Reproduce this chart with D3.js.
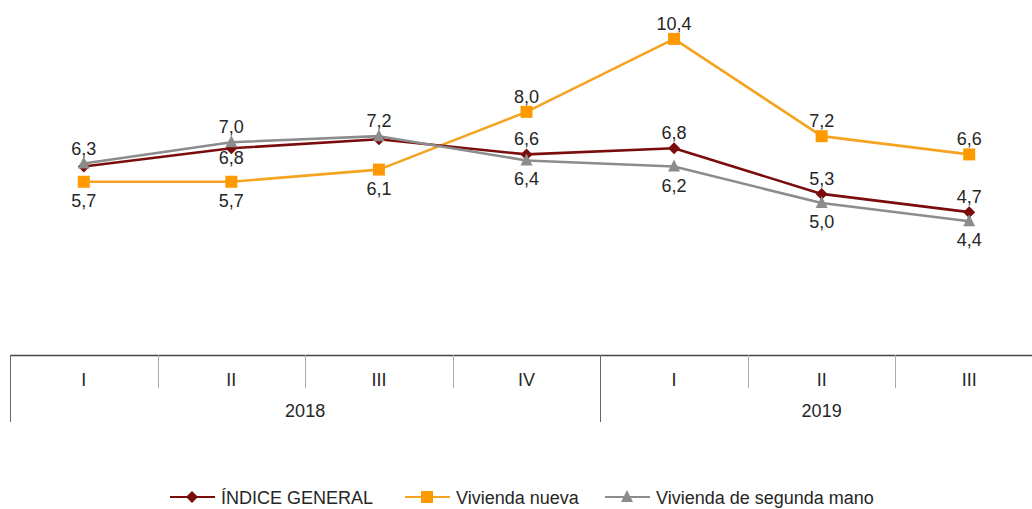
<!DOCTYPE html>
<html><head><meta charset="utf-8">
<script src="https://cdn.jsdelivr.net/npm/d3@7"></script>
<style>body{margin:0;background:#fff}svg{display:block}text{font-family:"Liberation Sans",Arial,sans-serif}</style>
</head><body><svg id="c" width="1032" height="509"></svg>
<script>
const quarters = ["I","II","III","IV","I","II","III"];
const years = ["2018","2018","2018","2018","2019","2019","2019"];
const indiceGeneral = [6.2, 6.8, 7.1, 6.6, 6.8, 5.3, 4.7];
const viviendaNueva = [5.7, 5.7, 6.1, 8.0, 10.4, 7.2, 6.6];
const segundaMano = [6.3, 7.0, 7.2, 6.4, 6.2, 5.0, 4.4];
const seriesNames = ["ÍNDICE GENERAL", "Vivienda nueva", "Vivienda de segunda mano"];
// label placement: 1 above, -1 below, -0.6 close below, 0 hidden
const labelIndice = [0, -0.6, 0, 1, 1, 1, 1];
const labelNueva = [-1, -1, -1, 1, 1, 1, 1];
const labelSegunda = [1, 1, 1, -1, -1, -1, -1];

const svg = d3.select("#c");
const left = 10, axisY = 355;
const x = d3.scaleBand().domain(d3.range(quarters.length)).range([left, 1043]).paddingInner(0);
const y = d3.scaleLinear().domain([0, 11.68]).range([axisY, 0]);
const cx = i => x(i) + x.bandwidth() / 2;

const series = [
  {name: seriesNames[0], values: indiceGeneral, color: "#7b0c0c", fill: "#7b0c0c", marker: "diamond", labels: labelIndice},
  {name: seriesNames[1], values: viviendaNueva, color: "#f5a421", fill: "#ff9900", marker: "square", labels: labelNueva},
  {name: seriesNames[2], values: segundaMano, color: "#8c8c8c", fill: "#8c8c8c", marker: "triangle", labels: labelSegunda}
];

function marker(g, s, px, py) {
  if (s.marker === "square") {
    g.append("rect").attr("x", px - 6).attr("y", py - 6).attr("width", 12).attr("height", 12).attr("fill", s.fill);
  } else if (s.marker === "diamond") {
    g.append("path").attr("d", `M${px},${py-6}L${px+6},${py}L${px},${py+6}L${px-6},${py}Z`).attr("fill", s.fill);
  } else {
    g.append("path").attr("d", `M${px},${py-7}L${px+6},${py+5}L${px-6},${py+5}Z`).attr("fill", s.fill);
  }
}

const order = [1, 0, 2];
const line = d3.line().x((d, i) => cx(i)).y(d => y(d));
order.forEach(si => {
  const s = series[si];
  svg.append("path").datum(s.values).attr("d", line).attr("fill", "none")
    .attr("stroke", s.color).attr("stroke-width", 2.6).attr("stroke-linejoin", "round");
});
order.forEach(si => {
  const s = series[si];
  const g = svg.append("g");
  s.values.forEach((v, i) => marker(g, s, cx(i), y(v)));
});
series.forEach(s => {
  s.values.forEach((v, i) => {
    const p = s.labels[i];
    if (!p) return;
    const dy = p > 0 ? -9 : (p === -1 ? 25 : 16);
    svg.append("text").attr("x", cx(i)).attr("y", y(v) + dy)
      .attr("text-anchor", "middle").attr("font-size", 18).attr("fill", "#262626")
      .text(d3.format(".1f")(v).replace(".", ","));
  });
});

// category table
const ax = svg.append("g");
ax.append("line").attr("x1", left).attr("x2", 1032).attr("y1", axisY + 0.5).attr("y2", axisY + 0.5).attr("stroke", "#444").attr("stroke-width", 1.3);
ax.append("line").attr("x1", left + 0.5).attr("x2", left + 0.5).attr("y1", axisY).attr("y2", 422).attr("stroke", "#666");
d3.range(1, quarters.length).forEach(i => {
  const xx = Math.round(x(i)) + 0.5;
  const isYear = years[i] !== years[i - 1];
  ax.append("line").attr("x1", xx).attr("x2", xx).attr("y1", axisY).attr("y2", isYear ? 422 : 388)
    .attr("stroke", isYear ? "#666" : "#aaa");
});
quarters.forEach((q, i) => {
  svg.append("text").attr("x", cx(i)).attr("y", 386).attr("text-anchor", "middle")
    .attr("font-size", 18).attr("fill", "#262626").text(q);
});
const uniqYears = Array.from(new Set(years));
uniqYears.forEach(yr => {
  const idx = years.map((d, i) => d === yr ? i : -1).filter(i => i >= 0);
  const mid = (x(idx[0]) + x(idx[idx.length - 1]) + x.bandwidth()) / 2;
  svg.append("text").attr("x", mid).attr("y", 417).attr("text-anchor", "middle")
    .attr("font-size", 18).attr("fill", "#262626").text(yr);
});

// legend
const legX = [170, 405, 605];
series.forEach((s, i) => {
  const g = svg.append("g").attr("transform", `translate(${legX[i]},497)`);
  g.append("line").attr("x1", 0).attr("x2", 45).attr("y1", 0).attr("y2", 0).attr("stroke", s.color).attr("stroke-width", 2.2);
  marker(g, s, 22, 0);
  g.append("text").attr("x", 51).attr("y", 6.5).attr("font-size", 18).attr("fill", "#262626").text(s.name);
});
</script></body></html>
